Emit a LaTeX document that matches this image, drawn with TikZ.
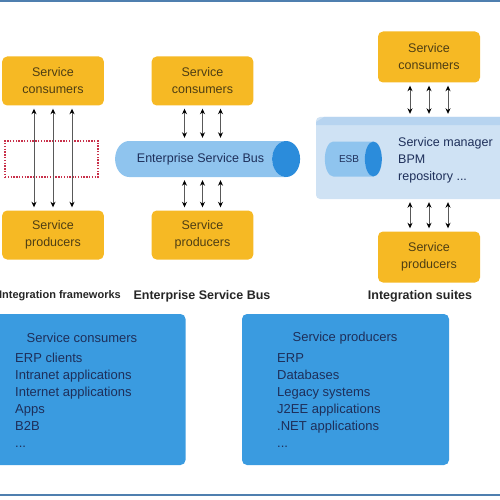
\documentclass[tikz,border=0pt]{standalone}
\usepackage{fontspec}
\setmainfont{Liberation Sans}
\usepackage{xcolor}
\usetikzlibrary{shapes,arrows.meta}
\definecolor{esbyellow}{HTML}{F6B924}
\definecolor{esbblue}{HTML}{3A9BE0}
\definecolor{buslight}{HTML}{8FC4EE}
\definecolor{busdark}{HTML}{2B8CDB}
\definecolor{suitebg}{HTML}{CFE2F4}
\definecolor{suitetop}{HTML}{B7D4F0}
\definecolor{navytext}{HTML}{1E2F5A}
\definecolor{boxtext}{HTML}{4E3E14}
\definecolor{rulecol}{HTML}{4F7FAF}
\definecolor{framered}{HTML}{C8304A}
\tikzstyle{service} = [rectangle, fill=esbyellow, rounded corners=5pt,
minimum width=101pt, minimum height=49pt, text width=95pt, align=center,
text=boxtext, font=\fontsize{12.5}{17}\selectfont]
\tikzstyle{bus} = [cylinder, shape aspect=2.4, cylinder uses custom fill,
cylinder body fill=buslight, cylinder end fill=busdark, inner sep=0pt,
text=navytext, font=\fontsize{12.5}{15}\selectfont]
\tikzstyle{pijltje} = [draw=gray!70!black, line width=0.8pt,
{Stealth[black,length=5.5pt,width=5pt]}-{Stealth[black,length=5.5pt,width=5pt]},
shorten <=3pt, shorten >=3pt]
\tikzstyle{listbox} = [rectangle, fill=esbblue, rounded corners=5pt, minimum height=151pt]
\tikzstyle{listtext} = [align=left, text=navytext, font=\fontsize{13}{17}\selectfont, inner sep=0pt]
\tikzstyle{caption} = [font=\bfseries\fontsize{12.5}{15}\selectfont, text=black!85, inner sep=0pt]

\begin{document}
\begin{tikzpicture}[x=1pt, y=-1pt]
	\useasboundingbox (0,0) rectangle (500,500);
	\draw [rulecol, line width=2.5pt] (0,1.2) -- (500,1.2);
	\draw [rulecol, line width=2.5pt] (0,495) -- (500,495);
	
	% integration frameworks
	\node [service] (lcons) at (53,81) {Service\\ consumers};
	\node [service] (lprod) at (53,235) {Service\\ producers};
	\node [draw=framered, line width=1.3pt, dash pattern=on 1.4pt off 1.4pt,
	minimum width=93pt, minimum height=36pt] (frame) at (51.5,159) {};
	\foreach \dx in {-19,0,19}
	\path [pijltje] ([xshift=\dx pt]lcons.south) -- ([xshift=\dx pt]lprod.north);
	\node [caption, anchor=east, font=\bfseries\fontsize{11}{13}\selectfont] (lcap) at (121,296) {Integration frameworks};
	
	% enterprise service bus
	\node [service] (mcons) at (202.5,81) {Service\\ consumers};
	\node [service] (mprod) at (202.5,235) {Service\\ producers};
	\node [bus, minimum width=36pt, minimum height=185pt] (bus) at (200.5,159) {Enterprise Service Bus};
	\foreach \dx in {-18,0,18} {
		\path [pijltje] ([xshift=\dx pt]mcons.south) -- ([xshift=\dx pt]mcons.south |- bus.north);
		\path [pijltje] ([xshift=\dx pt]mprod.north |- bus.south) -- ([xshift=\dx pt]mprod.north);
	}
	\node [caption] (mcap) at (202,296) {Enterprise Service Bus};
	
	% integration suites
	\node [service, minimum width=102pt, minimum height=51pt] (rcons) at (429,57) {Service\\ consumers};
	\node [service, minimum width=102pt, minimum height=51pt] (rprod) at (429,257) {Service\\ producers};
	\node [rectangle, fill=suitebg, rounded corners=4pt, minimum width=190pt, minimum height=82pt] (suite) at (411,158) {};
	\fill [suitetop] (324,117) -- (506,117) -- (506,125) -- (316,125) -- (316,122) -- cycle;
	\node [bus, minimum width=35pt, minimum height=57pt, font=\fontsize{10}{12}\selectfont] (esb) at (349,159) {ESB};
	\node [listtext, anchor=west, font=\fontsize{12.5}{17}\selectfont] (suitetext) at (398,160) {Service manager\\ BPM\\ repository ...};
	\foreach \dx in {-19,0,19} {
		\path [pijltje] ([xshift=\dx pt]rcons.south) -- ([xshift=\dx pt]rcons.south |- suite.north);
		\path [pijltje] ([xshift=\dx pt]rprod.north |- suite.south) -- ([xshift=\dx pt]rprod.north);
	}
	\node [caption] (rcap) at (420,296) {Integration suites};
	
	% lists
	\node [listbox, minimum width=197pt] (consbox) at (87,389.5) {};
	\node [listtext] (constitle) at (82,338) {Service consumers};
	\node [listtext, anchor=north west] (conslist) at (15,353) {ERP clients\\ Intranet applications\\ Internet applications\\ Apps\\ B2B\\ ...};
	
	\node [listbox, minimum width=207pt] (prodbox) at (345.5,389.5) {};
	\node [listtext] (prodtitle) at (345,338) {Service producers};
	\node [listtext, anchor=north west] (prodlist) at (277,353) {ERP\\ Databases\\ Legacy systems\\ J2EE applications\\ .NET applications\\ ...};
\end{tikzpicture}
\end{document}
